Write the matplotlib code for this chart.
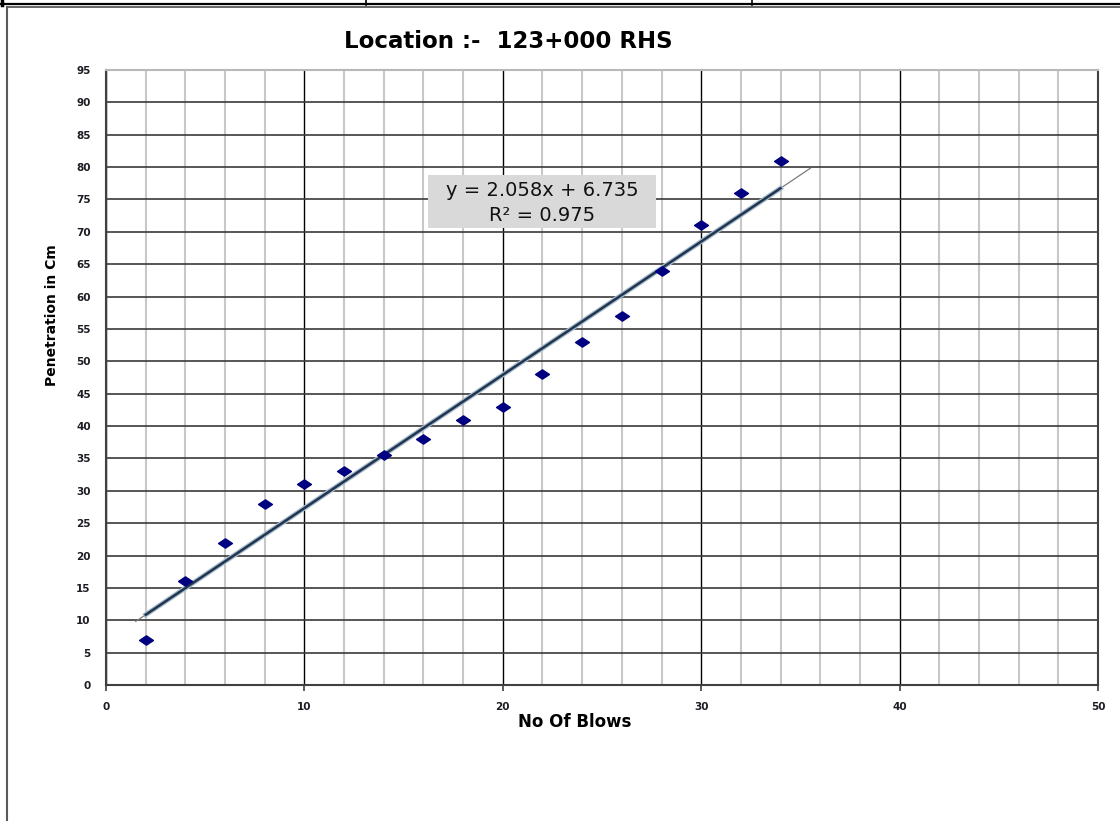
"""Dynamic cone penetration plot: penetration vs number of blows."""

import matplotlib

matplotlib.use("Agg")

import matplotlib.pyplot as plt
import numpy as np
from matplotlib.lines import Line2D
from matplotlib.path import Path
from matplotlib.patches import Rectangle

# data
blows = [2, 4, 6, 8, 10, 12, 14, 16, 18, 20, 22, 24, 26, 28, 30, 32, 34]
penetration = [7, 16, 22, 28, 31, 33, 35.5, 38, 41, 43, 48, 53, 57, 64, 71, 76, 81]

x_ticks = [0, 10, 20, 30, 40, 50]
y_ticks = list(range(0, 96, 5))

title = "Location :-  123+000 RHS"
x_label = "No Of Blows"
y_label = "Penetration in Cm"
eq_line = "y = 2.058x + 6.735"
r2_line = "R² = 0.975"

TEXT = "#1c1c24"

fig = plt.figure(figsize=(11.2, 8.21), dpi=100)
ax = fig.add_axes([106 / 1120, 1 - 685 / 821, 992 / 1120, 615 / 821])

ax.set_xlim(0, 50)
ax.set_ylim(0, 95)
ax.set_xticks(x_ticks)
ax.set_xticks(np.arange(0, 51, 2), minor=True)
ax.set_yticks(y_ticks)

ax.grid(which="minor", axis="x", color="#c8c8c8", linewidth=1.5)
ax.grid(which="major", axis="x", color="#000000", linewidth=1.0)
ax.grid(which="major", axis="y", color="#3a3a3a", linewidth=1.2)
ax.set_axisbelow(True)

ax.tick_params(axis="x", which="major", length=4, width=1.2, color="#404040",
               pad=8, labelsize=7.5, labelcolor=TEXT)
ax.tick_params(axis="x", which="minor", length=0)
ax.tick_params(axis="y", length=0, pad=11, labelsize=7.5, labelcolor=TEXT)
for lbl in ax.get_xticklabels() + ax.get_yticklabels():
    lbl.set_fontweight("bold")

for side in ["left", "bottom", "right"]:
    ax.spines[side].set_color("#404040")
    ax.spines[side].set_linewidth(1.5)
ax.spines["top"].set_color("#b8b8b8")
ax.spines["top"].set_linewidth(1.5)

# linear trendline, fitted from the points
slope, intercept = np.polyfit(blows, penetration, 1)
ext = np.array([blows[0] - 0.5, blows[-1] + 1.5])
ax.plot(ext, slope * ext + intercept, color="#7a7a7a", linewidth=0.9, zorder=3)
span = np.array([blows[0], blows[-1]])
ax.plot(span, slope * span + intercept, color="#a9bccd", linewidth=3.6, zorder=3)
ax.plot(span, slope * span + intercept, color="#1f3550", linewidth=1.8, zorder=4)

diamond = Path([(-1.5, 0), (0, 1), (1.5, 0), (0, -1), (-1.5, 0)],
               [Path.MOVETO, Path.LINETO, Path.LINETO, Path.LINETO, Path.CLOSEPOLY])
ax.plot(blows, penetration, linestyle="none", marker=diamond, markersize=10,
        color="#000080", zorder=5)

# equation box
ax.add_patch(Rectangle((16.23, 70.6), 11.5, 8.2, facecolor="#d9d9d9",
                       edgecolor="none", zorder=6))
ax.text(21.97, 76.4, eq_line, ha="center", va="center", fontsize=14,
        color="#111111", zorder=7)
ax.text(21.97, 72.6, r2_line, ha="center", va="center", fontsize=14,
        color="#111111", zorder=7)

fig.text(508 / 1120, 1 - 42 / 821, title, ha="center", va="center",
         fontsize=16.5, fontweight="bold", color="#000000")
fig.text(575 / 1120, 1 - 722 / 821, x_label, ha="center", va="center",
         fontsize=12, fontweight="bold", color="#000000")
fig.text(52 / 1120, 1 - 315 / 821, y_label, ha="center", va="center",
         rotation=90, fontsize=10, fontweight="semibold", color="#000000",
         family=["Liberation Sans Narrow", "DejaVu Sans"])

# page frame around the chart (sheet borders)
W, H = 1120, 821


def px_line(x0, y0, x1, y1, color, lw):
    fig.add_artist(Line2D([x0 / W, x1 / W], [1 - y0 / H, 1 - y1 / H],
                          color=color, linewidth=lw, transform=fig.transFigure))


px_line(0, 4.5, W, 4.5, "#000000", 1.6)
px_line(2, 0, 2, 5, "#000000", 2.5)
px_line(366, 0, 366, 5, "#000000", 1.2)
px_line(752, 0, 752, 5, "#000000", 1.2)
px_line(7, 7, W, 7, "#5a5a5a", 1.3)
px_line(7, 7, 7, H, "#5a5a5a", 1.5)

fig.savefig("out.png", dpi=100)
